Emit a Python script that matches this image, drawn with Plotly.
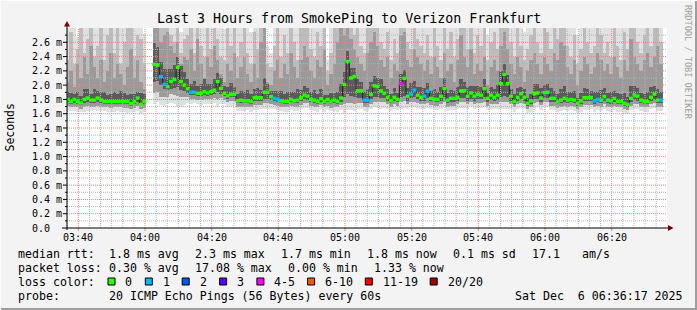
import plotly.graph_objects as go
from datetime import datetime, timedelta

# ---------------- data (one value per minute, 03:36:18 .. 06:35:18) ----------------
GAP = [None, None]  # no data 04:00-04:02

median_ms = ([1.80, 1.77, 1.80, 1.77, 1.75, 1.80, 1.82, 1.79, 1.79, 1.82,
              1.79, 1.77, 1.77, 1.77, 1.77, 1.77, 1.77, 1.77, 1.77, 1.74,
              1.77, 1.82, 1.73, 1.77] + GAP +
             [2.29, 2.28, 2.12, 2.01, 1.98, 2.05, 2.08, 2.25, 2.05, 2.00] +
             [1.95, 1.90, 1.90, 1.885, 1.885, 1.91, 1.89, 1.91, 1.93, 2.05,
              1.955, 1.885, 1.85, 1.87, 1.87, 1.78, 1.79, 1.78, 1.78, 1.77,
              1.825, 1.825, 1.825, 1.90, 1.90, 1.84, 1.815, 1.80, 1.78, 1.77,
              1.77, 1.80, 1.78, 1.79, 1.825, 1.86] +
             [1.845, 1.80, 1.79, 1.77, 1.81, 1.77, 1.80, 1.765, 1.79, 1.77,
              1.82, 2.01, 2.33, 2.10, 2.12, 1.92, 1.92, 1.79, 1.79, 1.87,
              1.99, 1.98, 1.92, 1.885, 1.83, 1.78, 1.83, 1.80, 2.02, 2.095,
              1.845, 1.875, 1.93, 1.86, 1.83, 1.845] +
             [1.915, 1.815, 1.80, 1.80, 1.845, 1.95, 1.79, 1.815, 1.815, 1.83,
              1.92, 1.92, 1.845, 1.89, 1.845, 1.87, 1.86, 1.95, 1.815, 1.86,
              1.83, 1.86, 2.02, 2.15, 2.02, 1.845, 1.77, 1.83, 1.88, 1.83,
              1.745, 1.78, 1.88, 1.89, 1.82, 1.895] +
             [1.90, 1.815, 1.815, 1.765, 1.79, 1.815, 1.79, 1.80, 1.79, 1.745,
              1.78, 1.825, 1.825, 1.825, 1.78, 1.80, 1.79, 1.84, 1.79, 1.78,
              1.815, 1.77, 1.77, 1.745, 1.73, 1.815, 1.86, 1.845, 1.79, 1.77,
              1.77, 1.83, 1.875, 1.79, 1.79, None])

loss_count = ([0] * 24 + GAP +
              [0, 0, 1, 1, 0, 0, 0, 0, 0, 0] +
              [0, 1, 1, 0, 0, 0, 0, 0, 0, 0, 0, 0, 0, 0, 0, 0, 0, 0, 0, 0,
               0, 0, 0, 0, 0, 0, 1, 1, 0, 0, 0, 0, 0, 0, 0, 0] +
              [0, 0, 0, 0, 0, 0, 0, 0, 0, 0, 0, 0, 0, 0, 0, 0, 0, 1, 1, 0,
               0, 0, 0, 0, 0, 0, 0, 0, 4, 0, 0, 1, 1, 0, 0, 1] +
              [1, 0, 0, 0, 0, 0, 0, 0, 0, 0, 0, 0, 0, 0, 0, 0, 0, 0, 0, 0,
               0, 0, 0, 0, 0, 0, 0, 0, 0, 0, 0, 0, 0, 0, 0, 0] +
              [0, 0, 0, 0, 0, 0, 0, 0, 0, 0, 0, 0, 0, 0, 1, 1, 0, 0, 0, 0,
               0, 0, 0, 0, 0, 0, 0, 0, 0, 0, 0, 0, 0, 0, 1, None])

# smoke: distances below the median (hundredths of ms) for the lower band edges
smoke_min_below = ([15, 13, 16, 14, 13, 17, 18, 15, 14, 18, 15, 13, 14, 15, 14, 13, 14, 15, 16, 12,
                    15, 18, 12, 15] + GAP +
                   [55, 52, 40, 30, 25, 30, 35, 55, 35, 28] +
                   [20, 16, 15, 15, 16, 17, 15, 17, 18, 35, 22, 15, 15, 16, 15, 14, 15, 14, 13, 14,
                    17, 17, 16, 24, 24, 17, 15, 15, 14, 14, 14, 15, 14, 15, 16, 18] +
                   [17, 15, 15, 14, 15, 14, 15, 13, 15, 14, 17, 40, 68, 45, 48, 26, 26, 15, 15, 20,
                    30, 30, 25, 20, 17, 14, 17, 15, 35, 42, 18, 18, 24, 18, 17, 18] +
                   [24, 15, 15, 15, 18, 26, 15, 16, 16, 17, 24, 24, 18, 20, 18, 19, 18, 26, 16, 19,
                    17, 19, 35, 48, 35, 18, 14, 17, 20, 17, 14, 15, 20, 20, 17, 20] +
                   [20, 16, 16, 14, 15, 16, 15, 15, 15, 13, 15, 17, 17, 16, 15, 15, 15, 18, 15, 15,
                    16, 14, 14, 13, 13, 16, 19, 18, 15, 14, 14, 16, 19, 15, 15, None])

smoke_mid_below = ([9, 8, 10, 8, 8, 10, 11, 9, 9, 11, 9, 8, 8, 9, 8, 8, 8, 9, 9, 7,
                    9, 11, 7, 9] + GAP +
                   [40, 38, 28, 18, 14, 18, 22, 40, 22, 16] +
                   [12, 9, 9, 9, 9, 10, 9, 10, 11, 25, 14, 9, 9, 9, 9, 8, 9, 8, 8, 8,
                    10, 10, 10, 15, 15, 10, 9, 9, 8, 8, 8, 9, 8, 9, 10, 11] +
                   [10, 9, 9, 8, 9, 8, 9, 8, 9, 8, 10, 28, 58, 35, 38, 17, 17, 9, 9, 13,
                    22, 22, 16, 12, 10, 8, 10, 9, 26, 32, 11, 11, 16, 11, 10, 11] +
                   [16, 9, 9, 9, 11, 18, 9, 10, 10, 10, 16, 16, 11, 13, 11, 12, 11, 18, 10, 12,
                    10, 12, 26, 38, 26, 11, 8, 10, 13, 10, 8, 9, 13, 13, 10, 13] +
                   [13, 10, 10, 8, 9, 10, 9, 9, 9, 8, 9, 10, 10, 10, 9, 9, 9, 11, 9, 9,
                    10, 8, 8, 8, 8, 10, 12, 11, 9, 8, 8, 10, 12, 9, 9, None])

smoke_core_below = ([4, 3, 5, 3, 3, 5, 6, 4, 4, 6, 4, 3, 3, 3, 3, 3, 3, 3, 4, 3,
                     4, 6, 2, 4] + GAP +
                    [25, 22, 12, 6, 5, 10, 12, 28, 12, 8] +
                    [6, 4, 4, 4, 4, 5, 4, 5, 6, 15, 8, 4, 4, 4, 4, 3, 4, 3, 3, 3,
                     5, 5, 5, 9, 9, 5, 4, 4, 3, 3, 3, 4, 3, 4, 5, 6] +
                    [5, 4, 4, 3, 4, 3, 4, 3, 4, 3, 5, 18, 45, 25, 28, 10, 10, 4, 4, 7,
                     15, 14, 10, 7, 5, 3, 5, 4, 18, 24, 6, 6, 10, 6, 5, 6] +
                    [10, 4, 4, 4, 6, 12, 4, 5, 5, 5, 10, 10, 6, 8, 6, 7, 6, 12, 5, 7,
                     5, 7, 18, 30, 18, 6, 3, 5, 8, 5, 3, 4, 8, 8, 5, 8] +
                    [8, 5, 5, 3, 4, 5, 4, 4, 4, 3, 4, 5, 5, 5, 4, 4, 4, 6, 4, 4,
                     5, 3, 3, 3, 3, 5, 7, 6, 4, 3, 3, 5, 7, 4, 4, None])

smoke_core_above = ([10, 12, 8, 14, 10, 15, 12, 9, 16, 10, 12, 14, 9, 11, 13, 10, 15, 12, 9, 14,
                     11, 8, 16, 10] + GAP +
                    [30, 25, 20, 22, 25, 18, 20, 15, 22, 18] +
                    [14, 12, 16, 11, 13, 18, 12, 10, 15, 12, 14, 10, 12, 16, 11, 9, 13, 12, 15, 10,
                     12, 14, 11, 20, 12, 8, 10, 12, 14, 11, 13, 10, 12, 15, 11, 13] +
                    [12, 10, 14, 11, 13, 9, 6, 12, 10, 14, 20, 18, 15, 14, 12, 16, 13, 12, 15, 18,
                     14, 12, 16, 11, 12, 10, 13, 9, 14, 12, 11, 15, 13, 12, 14, 12] +
                    [12, 10, 14, 11, 13, 15, 10, 12, 11, 14, 16, 12, 13, 10, 14, 12, 11, 13, 8, 12,
                     11, 14, 18, 14, 12, 10, 11, 13, 9, 12, 8, 10, 13, 12, 14, 11] +
                    [12, 14, 10, 11, 16, 18, 12, 10, 13, 7, 11, 14, 12, 10, 12, 11, 14, 12, 10, 13,
                     11, 12, 10, 14, 11, 18, 13, 12, 10, 11, 13, 14, 12, 16, 12, None])

# smoke: upper band tops (ms)
smoke_dark_top = ([2.05, 2.20, 1.98, 2.30, 2.10, 2.40, 2.15, 2.55, 2.25, 2.10,
                   2.35, 2.05, 2.20, 2.45, 2.10, 2.30, 2.15, 2.00, 2.25, 2.50,
                   2.10, 2.35, 2.05, 1.95] + GAP +
                  [2.80, 2.85, 2.60, 2.70, 2.75, 2.55, 2.45, 2.60, 2.30, 2.40] +
                  [2.35, 2.50, 2.20, 2.65, 2.30, 2.10, 2.40, 2.25, 2.55, 2.35,
                   2.15, 2.05, 2.30, 2.20, 2.45, 2.10, 2.25, 2.40, 2.15, 2.05,
                   2.30, 2.10, 2.60, 2.85, 2.05, 2.00, 2.20, 2.35, 2.10, 2.30,
                   2.15, 2.45, 2.25, 2.10, 2.35, 2.55] +
                  [2.40, 2.20, 2.10, 2.35, 2.25, 2.50, 2.00, 2.15, 2.30, 2.60,
                   2.80, 2.70, 2.85, 2.65, 2.50, 2.40, 2.30, 2.20, 2.45, 2.60,
                   2.75, 2.55, 2.35, 2.25, 2.40, 2.10, 2.30, 2.20, 2.70, 2.75,
                   2.35, 2.25, 2.50, 2.40, 2.30, 2.20] +
                  [2.35, 2.15, 2.40, 2.25, 2.10, 2.45, 2.20, 2.30, 2.05, 2.35,
                   2.70, 2.40, 2.25, 2.50, 2.15, 2.30, 2.20, 2.40, 2.00, 2.25,
                   2.35, 2.20, 2.55, 2.75, 2.50, 2.30, 2.15, 2.40, 2.25, 2.05,
                   2.20, 2.35, 2.45, 2.30, 2.15, 2.40] +
                  [2.30, 2.20, 2.45, 2.35, 2.60, 2.55, 2.25, 2.15, 2.35, 2.00,
                   2.20, 2.40, 2.30, 2.15, 2.25, 2.45, 2.35, 2.20, 2.30, 2.15,
                   2.40, 2.25, 2.10, 2.35, 2.20, 2.65, 2.40, 2.30, 2.20, 2.35,
                   2.45, 2.25, 2.40, 2.55, 2.30, None])

smoke_mid_top = ([2.35, 2.75, 2.30, 2.50, 2.85, 2.45, 2.65, 2.95, 2.40, 2.55,
                  2.90, 2.35, 2.70, 2.95, 2.45, 2.80, 2.30, 2.60, 2.85, 2.95,
                  2.40, 2.70, 2.65, 2.30] + GAP +
                 [2.95, 2.95, 2.95, 2.90, 2.95, 2.70, 2.60, 2.95, 2.45, 2.65] +
                 [2.70, 2.95, 2.45, 2.90, 2.55, 2.40, 2.85, 2.50, 2.95, 2.65,
                  2.40, 2.35, 2.80, 2.55, 2.95, 2.40, 2.60, 2.85, 2.45, 2.30,
                  2.75, 2.50, 2.95, 2.95, 2.30, 2.25, 2.55, 2.85, 2.40, 2.70,
                  2.45, 2.95, 2.60, 2.35, 2.80, 2.95] +
                 [2.85, 2.50, 2.40, 2.75, 2.55, 2.95, 2.20, 2.45, 2.80, 2.95,
                  2.95, 2.90, 2.95, 2.85, 2.70, 2.95, 2.55, 2.45, 2.90, 2.95,
                  2.95, 2.80, 2.60, 2.50, 2.75, 2.35, 2.65, 2.45, 2.95, 2.90,
                  2.60, 2.50, 2.85, 2.65, 2.55, 2.45] +
                 [2.70, 2.40, 2.90, 2.55, 2.35, 2.85, 2.50, 2.75, 2.40, 2.65,
                  2.95, 2.80, 2.50, 2.90, 2.45, 2.70, 2.55, 2.85, 2.35, 2.60,
                  2.75, 2.50, 2.95, 2.95, 2.85, 2.60, 2.40, 2.90, 2.55, 2.35,
                  2.50, 2.70, 2.90, 2.60, 2.45, 2.85] +
                 [2.75, 2.50, 2.90, 2.65, 2.95, 2.95, 2.55, 2.40, 2.70, 2.30,
                  2.50, 2.85, 2.60, 2.45, 2.55, 2.90, 2.70, 2.45, 2.60, 2.40,
                  2.85, 2.55, 2.35, 2.75, 2.50, 2.95, 2.90, 2.60, 2.45, 2.70,
                  2.90, 2.55, 2.80, 2.95, 2.60, None])

smoke_max = ([2.95, 3.0, 2.9, 2.68, 3.0, 3.0, 2.95, 3.0, 3.0, 2.9,
              3.0, 3.0, 3.0, 3.0, 2.95, 3.0, 3.0, 2.9, 3.0, 3.0,
              3.0, 3.0, 2.95, 2.72] + GAP +
             [3.0, 3.0, 3.0, 3.0, 3.0, 3.0, 3.0, 3.0, 2.75, 3.0] +
             [3.0, 3.0, 3.0, 3.0, 3.0, 2.85, 3.0, 3.0, 3.0, 3.0,
              3.0, 2.78, 3.0, 3.0, 3.0, 2.9, 3.0, 3.0, 3.0, 2.75,
              3.0, 3.0, 3.0, 3.0, 2.55, 2.45, 3.0, 3.0, 3.0, 3.0,
              3.0, 3.0, 3.0, 3.0, 3.0, 3.0] +
             [3.0, 3.0, 2.95, 3.0, 3.0, 3.0, 2.35, 3.0, 3.0, 3.0,
              3.0, 3.0, 3.0, 3.0, 3.0, 3.0, 3.0, 3.0, 3.0, 3.0,
              3.0, 3.0, 3.0, 3.0, 3.0, 2.85, 3.0, 3.0, 3.0, 3.0,
              3.0, 3.0, 3.0, 3.0, 3.0, 3.0] +
             [3.0, 3.0, 3.0, 3.0, 2.9, 3.0, 3.0, 3.0, 2.85, 3.0,
              3.0, 3.0, 3.0, 3.0, 3.0, 3.0, 3.0, 3.0, 2.7, 3.0,
              3.0, 3.0, 3.0, 3.0, 3.0, 3.0, 3.0, 3.0, 3.0, 2.75,
              3.0, 3.0, 3.0, 3.0, 3.0, 3.0] +
             [3.0, 3.0, 3.0, 3.0, 3.0, 3.0, 3.0, 3.0, 3.0, 2.7,
              3.0, 3.0, 3.0, 3.0, 3.0, 3.0, 3.0, 3.0, 3.0, 3.0,
              3.0, 3.0, 3.0, 3.0, 3.0, 3.0, 3.0, 3.0, 3.0, 3.0,
              3.0, 3.0, 3.0, 3.0, 3.0, None])

y_major = [0.2, 0.4, 0.6, 0.8, 1.0, 1.2, 1.4, 1.6, 1.8, 2.0, 2.2, 2.4, 2.6]
y_minor = [0.1, 0.3, 0.5, 0.7, 0.9, 1.1, 1.3, 1.5, 1.7, 1.9, 2.1, 2.3, 2.5, 2.7]
y_tick_labels = ["0.0", "0.2 m", "0.4 m", "0.6 m", "0.8 m", "1.0 m", "1.2 m", "1.4 m",
                 "1.6 m", "1.8 m", "2.0 m", "2.2 m", "2.4 m", "2.6 m"]
x_tick_labels = ["03:40", "04:00", "04:20", "04:40", "05:00", "05:20", "05:40", "06:00", "06:20"]

loss_classes = ["0", "1", "2", "3", "4-5", "6-10", "11-19", "20/20"]
loss_colors = ["#26ff00", "#00b8ff", "#0059ff", "#5e00ff", "#ff00ff", "#ff5500", "#ff0000", "#a10000"]

rtt_stats = ["1.8 ms avg", "2.3 ms max", "1.7 ms min", "1.8 ms now", "0.1 ms sd", "17.1", "am/s"]
loss_stats = ["0.30 % avg", "17.08 % max", "0.00 % min", "1.33 % now"]
probe_text = "20 ICMP Echo Pings (56 Bytes) every 60s"
stamp_text = "Sat Dec  6 06:36:17 2025"
title_text = "Last 3 Hours from SmokePing to Verizon Frankfurt"

N = 180
for arr in (median_ms, loss_count, smoke_min_below, smoke_mid_below, smoke_core_below,
            smoke_core_above, smoke_dark_top, smoke_mid_top, smoke_max):
    assert len(arr) == N, len(arr)

# ---------------- geometry helpers ----------------
PL, PT, PW, PH = 67, 28, 600, 200
W, H = 697, 310
Y_TOP = 2.8


def px(x):
    return (x - PL) / PW


def py(y):
    return (PT + PH - y) / PH


MONO = "DejaVu Sans Mono"
base_t = datetime(2025, 12, 6, 3, 36, 18)
x_range = [datetime(2025, 12, 6, 3, 36, 36), datetime(2025, 12, 6, 6, 36, 36)]
t_start = [base_t + timedelta(minutes=i) for i in range(N)]
t_mid = [t + timedelta(seconds=30) for t in t_start]
t_end = [t + timedelta(minutes=1) for t in t_start]
overlap = timedelta(seconds=6)

# absolute band edges
lo_min, lo_mid, lo_core, hi_core, hi_dark, hi_mid, hi_max = ([None] * N for _ in range(7))
for i in range(N):
    m = median_ms[i]
    if m is None:
        continue
    lo_min[i] = m - smoke_min_below[i] / 100
    lo_mid[i] = m - smoke_mid_below[i] / 100
    lo_core[i] = m - smoke_core_below[i] / 100
    hi_core[i] = m + smoke_core_above[i] / 100
    hi_dark[i] = max(smoke_dark_top[i], hi_core[i])
    hi_mid[i] = max(smoke_mid_top[i], hi_dark[i])
    hi_max[i] = max(smoke_max[i], hi_mid[i])

fig = go.Figure()


def add_band(lo, hi, color):
    xs, bs, hs = [], [], []
    for i in range(N):
        if lo[i] is None:
            continue
        xs.append(t_mid[i])
        bs.append(lo[i])
        hs.append(hi[i] - lo[i])
    fig.add_trace(go.Bar(x=xs, y=hs, base=bs, width=62000,
                         marker=dict(color=color, line=dict(width=0)),
                         hoverinfo="skip"))


add_band(lo_min, hi_max, "#e0e0e0")
add_band(lo_mid, hi_mid, "#bdbdbd")
add_band(lo_mid, hi_dark, "#9a9a9a")
add_band(lo_core, hi_core, "#5a5a5a")

# ---- grid: drawn over the smoke, under the median line ----
t_first_minor = datetime(2025, 12, 6, 3, 36, 40)
minor_x = []
t = t_first_minor
while t < x_range[1]:
    minor_x.append(t)
    t += timedelta(seconds=200)
major_x = [datetime(2025, 12, 6, 3, 40) + timedelta(minutes=20 * k) for k in range(len(x_tick_labels))]
minor_x = [t for t in minor_x if t not in major_x]


def grid_trace(hvals, vtimes, color):
    xs, ys = [], []
    for v in hvals:
        xs += [x_range[0], x_range[1], None]
        ys += [v, v, None]
    for t in vtimes:
        xs += [t, t, None]
        ys += [0, Y_TOP, None]
    fig.add_trace(go.Scatter(x=xs, y=ys, mode="lines", hoverinfo="skip",
                             line=dict(color=color, width=1, dash="1px,1px")))


grid_trace(y_minor, minor_x, "#b4b4b4")
grid_trace(y_major, major_x, "#f08080")

# dark step line connecting the medians
fig.add_trace(go.Scatter(x=t_start, y=median_ms, mode="lines",
                         line=dict(shape="hv", color="#202020", width=1),
                         connectgaps=False, hoverinfo="skip"))


def loss_class(n):
    if n <= 3:
        return n
    if n <= 5:
        return 4
    if n <= 10:
        return 5
    if n <= 19:
        return 6
    return 7


for k, col in enumerate(loss_colors):
    xs, ys = [], []
    for i in range(N):
        if median_ms[i] is None or loss_class(loss_count[i]) != k:
            continue
        xs += [t_start[i] - overlap, t_end[i] + overlap, None]
        ys += [median_ms[i], median_ms[i], None]
    if xs:
        fig.add_trace(go.Scatter(x=xs, y=ys, mode="lines",
                                 line=dict(color=col, width=3.4), hoverinfo="skip"))

shapes = []
annotations = []

for t in major_x:
    shapes.append(dict(type="line", xref="x", yref="paper", x0=t, x1=t, y0=0, y1=py(231),
                       line=dict(color="#f08080", width=1)))

# axes
shapes.append(dict(type="line", xref="paper", yref="paper", x0=px(62), x1=px(669), y0=0, y1=0,
                   line=dict(color="#000000", width=1)))
shapes.append(dict(type="line", xref="paper", yref="paper", x0=0, x1=0, y0=py(230), y1=py(25),
                   line=dict(color="#000000", width=1)))
for v in y_major:
    shapes.append(dict(type="line", xref="paper", yref="y", x0=px(63), x1=0, y0=v, y1=v,
                       line=dict(color="#000000", width=1)))
for v in y_minor:
    shapes.append(dict(type="line", xref="paper", yref="y", x0=px(65), x1=0, y0=v, y1=v,
                       line=dict(color="#000000", width=1)))
# arrows
shapes.append(dict(type="path", xref="paper", yref="paper",
                   path=f"M {px(64)} {py(26.5)} L {px(70)} {py(26.5)} L {px(67)} {py(21)} Z",
                   fillcolor="#800000", line=dict(color="#800000", width=0)))
shapes.append(dict(type="path", xref="paper", yref="paper",
                   path=f"M {px(668)} {py(225)} L {px(668)} {py(231)} L {px(673.5)} {py(228)} Z",
                   fillcolor="#800000", line=dict(color="#800000", width=0)))

# frame
shapes.append(dict(type="line", xref="paper", yref="paper", x0=px(0), x1=px(W), y0=py(309), y1=py(309),
                   line=dict(color="#9e9e9e", width=2)))
shapes.append(dict(type="line", xref="paper", yref="paper", x0=px(696), x1=px(696), y0=py(0), y1=py(H),
                   line=dict(color="#9e9e9e", width=2)))
shapes.append(dict(type="line", xref="paper", yref="paper", x0=px(0), x1=px(W), y0=py(0.5), y1=py(0.5),
                   line=dict(color="#fcfcfc", width=1)))
shapes.append(dict(type="line", xref="paper", yref="paper", x0=px(0.5), x1=px(0.5), y0=py(0), y1=py(H),
                   line=dict(color="#fcfcfc", width=1)))


def txt(x, y, s, size, anchor="left", color="#000000", angle=0, xref="paper", yref="paper"):
    annotations.append(dict(x=x, y=y, xref=xref, yref=yref, text=s.replace("  ", "\u00a0\u00a0"),
                            showarrow=False, xanchor=anchor, yanchor="middle", textangle=angle,
                            font=dict(family=MONO, size=size, color=color)))


# title and side texts
txt(px(348.5), py(18.5), title_text, 13.3, anchor="center")
txt(px(9.5), py(127), "Seconds", 11.5, anchor="center", angle=-90)
txt(px(688), py(62), "RRDTOOL / TOBI OETIKER", 8.6, anchor="center", color="#a0a0a0", angle=90)

# tick labels
for v, lab in zip([0.0] + y_major, y_tick_labels):
    txt(px(29.5), v, lab, 10, anchor="left", yref="y")
for t, lab in zip(major_x, x_tick_labels):
    txt(t, py(237.5), lab, 10, anchor="center", xref="x")

# legend block
LF = 11.6
row_y = [254, 268, 281.5, 295.5]
txt(px(15.5), py(row_y[0]), "median rtt:", LF)
for xpos, s in zip([107, 192.8, 278.6, 364.8, 450.6, 529.7, 579.5], rtt_stats):
    txt(px(xpos), py(row_y[0]), s, LF)
txt(px(15.5), py(row_y[1]), "packet loss:", LF)
for xpos, s in zip([107, 192.8, 286.2, 371.9], loss_stats):
    txt(px(xpos), py(row_y[1]), s, LF)
txt(px(15.5), py(row_y[2]), "loss color:", LF)
box_x = [108, 145.3, 182.2, 219.6, 256.9, 307.6, 365.3, 430.2]
for bx, lab, col in zip(box_x, loss_classes, loss_colors):
    shapes.append(dict(type="rect", xref="paper", yref="paper", x0=px(bx), x1=px(bx + 7),
                       y0=py(row_y[2] - 3.5), y1=py(row_y[2] + 3.5),
                       fillcolor=col, line=dict(color="#000000", width=1)))
    txt(px(bx + 15.3), py(row_y[2]), lab, LF)
txt(px(15.5), py(row_y[3]), "probe:", LF)
txt(px(107), py(row_y[3]), probe_text, LF)
txt(px(512.8), py(row_y[3]), stamp_text, LF)

fig.update_layout(
    width=W, height=H,
    margin=dict(l=PL, r=W - PL - PW, t=PT, b=H - PT - PH),
    paper_bgcolor="#f3f3f3", plot_bgcolor="#ffffff",
    showlegend=False, barmode="overlay", bargap=0,
    xaxis=dict(type="date", range=x_range, showgrid=False, showticklabels=False,
               zeroline=False, showline=False, ticks=""),
    yaxis=dict(range=[0, Y_TOP], showgrid=False, showticklabels=False,
               zeroline=False, showline=False, ticks=""),
    shapes=shapes, annotations=annotations,
)

fig.write_html("out.html", config={"displayModeBar": False})
